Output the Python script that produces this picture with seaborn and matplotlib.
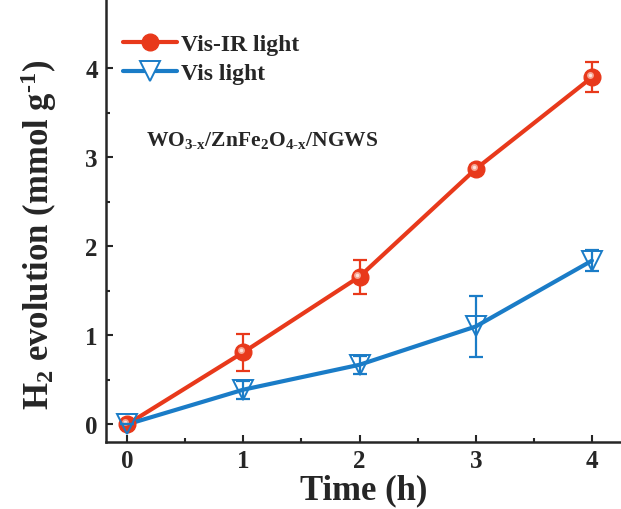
import numpy as np
import pandas as pd
import matplotlib
matplotlib.use("Agg")
import matplotlib.pyplot as plt
import matplotlib.transforms as mtransforms
from matplotlib.lines import Line2D
import seaborn as sns

# H2 evolution data
time_h = [0, 1, 2, 3, 4]
visir_h2 = [0.0, 0.81, 1.66, 2.87, 3.90]
visir_err = [0.0, 0.21, 0.19, 0.04, 0.17]
vis_h2 = [0.0, 0.39, 0.67, 1.10, 1.84]
vis_err = [0.0, 0.10, 0.10, 0.34, 0.12]
series_names = ["Vis-IR light", "Vis light"]
x_ticks = [0, 1, 2, 3, 4]
y_ticks = [0, 1, 2, 3, 4]

red = "#E8391B"
blue = "#1A7CC7"

sns.set_style("ticks")
plt.rcParams["font.family"] = ["Liberation Serif", "DejaVu Serif"]
plt.rcParams["font.weight"] = "bold"
plt.rcParams["mathtext.fontset"] = "custom"
plt.rcParams["mathtext.rm"] = "Liberation Serif:bold"
plt.rcParams["mathtext.it"] = "Liberation Serif:bold"
plt.rcParams["mathtext.bf"] = "Liberation Serif:bold"
plt.rcParams["mathtext.default"] = "rm"

df = pd.DataFrame({
    "Time": time_h * 2,
    "H2": visir_h2 + vis_h2,
    "Series": [series_names[0]] * 5 + [series_names[1]] * 5,
})

fig = plt.figure(figsize=(6.21, 5.10), dpi=100)
ax = fig.add_axes([0.171, 0.131, 0.829, 0.869])

# connecting lines
sns.lineplot(data=df, x="Time", y="H2", hue="Series",
             palette={series_names[0]: red, series_names[1]: blue},
             linewidth=3, ax=ax, legend=False, zorder=3)

# error bars
ax.errorbar(time_h, visir_h2, yerr=visir_err, fmt="none", ecolor=red,
            elinewidth=1.6, capsize=5, capthick=1.6, zorder=2)
ax.errorbar(time_h, vis_h2, yerr=vis_err, fmt="none", ecolor=blue,
            elinewidth=1.6, capsize=5, capthick=1.6, zorder=6)

# shaded sphere markers
ax.plot(time_h, visir_h2, linestyle="none", marker="o", markersize=12,
        markerfacecolor=red, markeredgecolor=red, zorder=4)
hl = mtransforms.offset_copy(ax.transData, fig=fig, x=-1.5, y=1.5, units="points")
ax.plot(time_h, visir_h2, linestyle="none", marker="o", markersize=5,
        markerfacecolor="#F6A592", markeredgecolor="none", transform=hl, zorder=5)
ax.plot(time_h, visir_h2, linestyle="none", marker="o", markersize=2.5,
        markerfacecolor="#FDE3DC", markeredgecolor="none", transform=hl, zorder=5)
# open triangle markers
ax.plot(time_h, vis_h2, linestyle="none", marker="v", markersize=15,
        markerfacecolor="none", markeredgecolor=blue, markeredgewidth=1.4, zorder=5)

# legend
h1 = Line2D([], [], color=red, lw=3, marker="o", markersize=12,
            markerfacecolor=red, markeredgecolor=red)
h2 = Line2D([], [], color=blue, lw=3, marker="v", markersize=15,
            markerfacecolor="white", markeredgecolor=blue, markeredgewidth=1.4)
ax.legend([h1, h2], series_names, loc="upper left", frameon=False,
          bbox_to_anchor=(0.0, 0.96),
          prop={"family": "Liberation Serif", "weight": "bold", "size": 17},
          handlelength=2.3, handletextpad=0.15, labelspacing=0.32,
          borderaxespad=0.3)

ax.text(0.16, 3.2, r"WO$_{3\text{-}x}$/ZnFe$_2$O$_{4\text{-}x}$/NGWS",
        fontsize=15.5, fontweight="bold", ha="left", va="center")

ax.set_xlim(-0.18, 4.25)
ax.set_ylim(-0.2, 4.78)
ax.set_xticks(x_ticks)
ax.set_yticks(y_ticks)
ax.set_xticks(np.arange(0.5, 4.5, 1.0), minor=True)
ax.set_yticks(np.arange(0.5, 4.5, 1.0), minor=True)
ax.tick_params(axis="both", which="major", direction="in", length=5, width=1.5,
               labelsize=18)
ax.tick_params(axis="x", which="major", pad=5)
ax.tick_params(axis="y", which="major", pad=6)
ax.tick_params(axis="both", which="minor", direction="in", length=3, width=1.5)
for lab in ax.get_xticklabels() + ax.get_yticklabels():
    lab.set_fontweight("bold")

sns.despine(ax=ax, top=True, right=True)
ax.spines["left"].set_linewidth(1.8)
ax.spines["bottom"].set_linewidth(1.8)

ax.set_xlabel("Time (h)", fontsize=25, fontweight="bold", labelpad=1)
ax.set_ylabel(r"H$_2$ evolution (mmol g$^{\text{-}1}$)", fontsize=25,
              fontweight="bold")
ax.yaxis.set_label_coords(-0.092, 0.47)

fig.savefig("out.png", dpi=100)
